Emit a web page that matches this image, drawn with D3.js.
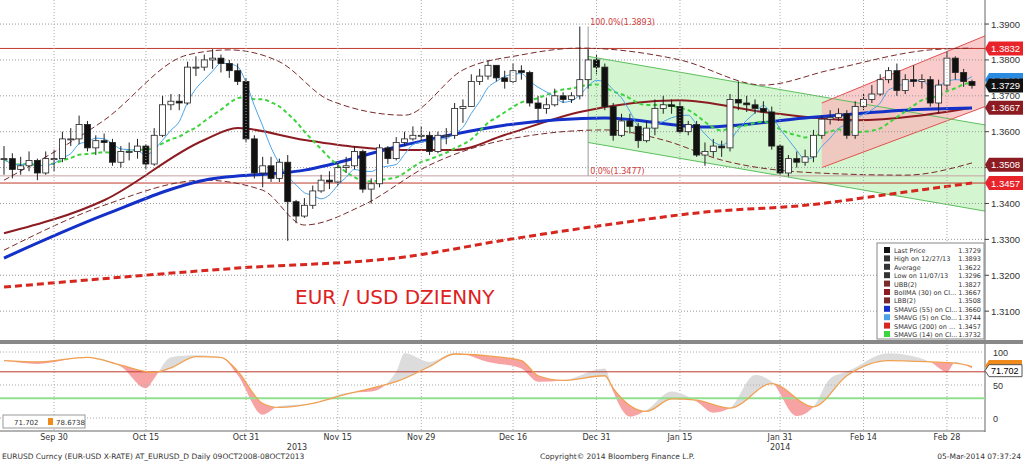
<!DOCTYPE html>
<html><head><meta charset="utf-8">
<script src="https://cdn.jsdelivr.net/npm/d3@7"></script>
<style>body{margin:0;background:#fff;font-family:"DejaVu Sans",sans-serif}svg text{font-family:"DejaVu Sans",sans-serif}svg text.ax{font-family:"Liberation Sans",sans-serif}</style>
</head><body><svg width="1023" height="462"></svg>
<script>
// daily closes, Sep 20 2013 .. Mar 5 2014 (trading days)
const closes = [1.3525,
 1.3495,1.3505,1.3520,1.3485,1.3525, 1.3525,1.3580,1.3580,1.3620,1.3555,
 1.3575,1.3570,1.3515,1.3545,1.3545, 1.3560,1.3510,1.3590,1.3675,1.3685,
 1.3680,1.3780,1.3780,1.3800,1.3805, 1.3790,1.3770,1.3740,1.3580,1.3485,
 1.3505,1.3470,1.3515,1.3405,1.3365, 1.3395,1.3435,1.3465,1.3460,1.3500,
 1.3505,1.3545,1.3440,1.3455,1.3555, 1.3525,1.3570,1.3580,1.3590,1.3590,
 1.3545,1.3590,1.3590,1.3665,1.3670, 1.3740,1.3755,1.3785,1.3750,1.3740,
 1.3770,1.3765,1.3680,1.3665,1.3675, 1.3700,1.3690,1.3700,1.3745,
 1.3800,1.3780,1.3670,1.3590, 1.3630,1.3615,1.3575,1.3610,1.3665,
 1.3675,1.3670,1.3600,1.3620,1.3535, 1.3545,1.3560,1.3555,1.3690,1.3680,
 1.3675,1.3665,1.3655,1.3560,1.3485, 1.3525,1.3515,1.3530,1.3590,1.3635,
 1.3640,1.3650,1.3590,1.3670,1.3690, 1.3705,1.3745,1.3770,1.3715,1.3745,
 1.3740,1.3745,1.3680,1.3730,1.3805, 1.3765,1.3740,1.3729];
const highs = [1.3560,
 1.3540,1.3530,1.3545,1.3525,1.3545, 1.3550,1.3600,1.3610,1.3645,1.3630,
 1.3590,1.3595,1.3580,1.3560,1.3570, 1.3580,1.3565,1.3610,1.3700,1.3705,
 1.3705,1.3795,1.3810,1.3815,1.3830, 1.3815,1.3800,1.3790,1.3750,1.3590,
 1.3530,1.3530,1.3525,1.3535,1.3410, 1.3415,1.3450,1.3480,1.3490,1.3515,
 1.3530,1.3560,1.3550,1.3470,1.3565, 1.3560,1.3585,1.3600,1.3615,1.3615,
 1.3600,1.3600,1.3610,1.3680,1.3690, 1.3760,1.3775,1.3800,1.3785,1.3770,
 1.3790,1.3785,1.3770,1.3700,1.3695, 1.3720,1.3710,1.3710,1.3893,
 1.3830,1.3815,1.3790,1.3680, 1.3650,1.3650,1.3625,1.3630,1.3690,
 1.3700,1.3690,1.3685,1.3630,1.3630, 1.3570,1.3580,1.3575,1.3705,1.3740,
 1.3700,1.3690,1.3685,1.3670,1.3565, 1.3535,1.3545,1.3550,1.3605,1.3645,
 1.3660,1.3665,1.3660,1.3685,1.3705, 1.3730,1.3760,1.3780,1.3790,1.3760,
 1.3785,1.3760,1.3755,1.3745,1.3825, 1.3810,1.3775,1.3745];
const lows = [1.3480,
 1.3470,1.3480,1.3490,1.3465,1.3480, 1.3490,1.3515,1.3560,1.3565,1.3545,
 1.3535,1.3545,1.3505,1.3500,1.3520, 1.3525,1.3495,1.3505,1.3585,1.3660,
 1.3660,1.3675,1.3755,1.3770,1.3775, 1.3765,1.3750,1.3730,1.3570,1.3470,
 1.3445,1.3460,1.3460,1.3296,1.3345, 1.3360,1.3385,1.3430,1.3440,1.3450,
 1.3485,1.3495,1.3430,1.3400,1.3445, 1.3510,1.3520,1.3560,1.3575,1.3575,
 1.3535,1.3540,1.3565,1.3580,1.3625, 1.3670,1.3730,1.3745,1.3740,1.3720,
 1.3735,1.3745,1.3670,1.3630,1.3650, 1.3670,1.3680,1.3680,1.3690,
 1.3720,1.3760,1.3660,1.3575, 1.3585,1.3595,1.3555,1.3570,1.3590,
 1.3650,1.3650,1.3595,1.3590,1.3530, 1.3505,1.3530,1.3530,1.3545,1.3660,
 1.3655,1.3650,1.3625,1.3550,1.3480, 1.3475,1.3500,1.3505,1.3515,1.3580,
 1.3620,1.3630,1.3580,1.3580,1.3660, 1.3680,1.3700,1.3735,1.3700,1.3705,
 1.3725,1.3720,1.3670,1.3650,1.3715, 1.3745,1.3725,1.3720];

// overlays, sampled as [day index, value]
const ma200 = [[0,1.3167],[28,1.3220],[48,1.3251],[60,1.3298],[72,1.3340],[84,1.3376],[96,1.3395],[108,1.3432],[116,1.3457]];
const ma55  = [[0,1.3248],[12,1.3368],[24,1.3465],[36,1.3493],[48,1.3563],[60,1.3618],[72,1.3638],[84,1.3613],[96,1.3638],[108,1.3660],[116,1.3666]];
const bollMa= [[0,1.3317],[12,1.3409],[24,1.3577],[28,1.3610],[36,1.3577],[48,1.3549],[54,1.3549],[60,1.3591],[69,1.3655],[81,1.3688],[91,1.3655],[102,1.3632],[116,1.3667]];
const bandUp= [[0,1.3465],[12,1.3632],[22,1.3814],[27,1.3828],[33,1.3795],[39,1.3688],[48,1.3646],[55,1.3772],[62,1.3814],[69,1.3833],[81,1.3800],[91,1.3730],[99,1.3772],[111,1.3828],[116,1.3833]];
const bandLo= [[0,1.3270],[12,1.3395],[24,1.3465],[31,1.3437],[36,1.3340],[43,1.3395],[51,1.3507],[60,1.3577],[72,1.3605],[79,1.3577],[86,1.3521],[96,1.3487],[108,1.3479],[116,1.3513]];
const greenCh = {up:[[70,1.3810],[121,1.3605]], lo:[[70,1.3570],[121,1.3365]]};
const redCh   = {up:[[98,1.3680],[121,1.3900]], lo:[[98,1.3500],[121,1.3700]]};
const levels  = [1.3832,1.3457];
const fib     = [[70,1.3893,"100.0%(1.3893)"],[70,1.3477,"0.0%(1.3477)"]];

const rsi  = [[0,87],[4,85],[10,92],[14,80],[18,69],[20,76],[23,93],[26,92],[28,71],[31,22],[33,16],[37,22],[41,36],[44,45],[47,55],[51,78],[54,97],[58,94],[62,87],[64,64],[67,57],[72,64],[73,45],[77,10],[80,29],[83,27],[87,15],[92,52],[97,17],[101,64],[106,87],[111,85],[114,83],[116,78]];
const rsiFast = [[0,87],[4,82],[10,92],[14,78],[17,45],[18,60],[20,92],[23,95],[26,92],[28,65],[31,5],[33,18],[37,22],[41,38],[44,40],[47,70],[48,98],[51,85],[54,99],[58,85],[62,75],[64,55],[67,57],[72,75],[73,40],[75,2],[77,12],[80,40],[83,25],[85,8],[87,15],[90,65],[92,55],[95,3],[97,17],[99,60],[101,70],[106,98],[111,85],[113,70],[114,85],[116,75]];

const yTicks = [1.31,1.32,1.33,1.34,1.35,1.36,1.37,1.38,1.39];
const dateTicks = [["Sep 30",6],["Oct 15",17],["Oct 31",29],["Nov 15",40],["Nov 29",50],["Dec 16",61],["Dec 31",71],["Jan 15",81],["Jan 31",93],["Feb 14",103],["Feb 28",113]];
const priceTags = [[1.3832,"#e8242a","#fff"],[1.3744,"#2a8be0","#fff"],[1.3729,"#111","#fff"],[1.3667,"#8c1c22","#fff"],[1.3508,"#8c1c22","#fff"],[1.3457,"#e8242a","#fff"]];
const legendRows = [["Last Price","1.3729"],["High on 12/27/13","1.3893"],["Average","1.3622"],["Low on 11/07/13","1.3296"],["UBB(2)","1.3827"],["BollMA (30) on Cl...","1.3667"],["LBB(2)","1.3508"],["SMAVG (55) on Cl...","1.3660"],["SMAVG (5) on Clo...","1.3744"],["SMAVG (200) on ...","1.3457"],["SMAVG (14) on Cl...","1.3732"]];

const svg = d3.select("svg");
const plotR = 985;
const x = d3.scaleLinear().domain([0, closes.length - 1]).range([4, 972]);
const y = d3.scaleLinear().domain([1.3067, 1.3967]).range([323, 0]);
const yr = d3.scaleLinear().domain([0, 100]).range([418, 352]);

//Channels
const chPoly = (c) => [...c.up, ...c.lo.slice().reverse()].map(p => [x(p[0]), y(p[1])].join(",")).join(" ");
const defs = svg.append("defs");
defs.append("clipPath").attr("id","top").append("rect").attr("width",plotR).attr("height",340);
const gTop = svg.append("g").attr("clip-path","url(#top)");
gTop.append("polygon").attr("points", chPoly(greenCh)).attr("fill","#c8f2c4").attr("opacity",0.8);
gTop.append("polygon").attr("points", chPoly(redCh)).attr("fill","#f8b9b9").attr("opacity",0.75);
[greenCh, redCh].forEach((c, i) => [c.up, c.lo].forEach(l =>
  gTop.append("line").attr("x1",x(l[0][0])).attr("y1",y(l[0][1])).attr("x2",x(l[1][0])).attr("y2",y(l[1][1]))
    .attr("stroke", i ? "#e05050" : "#5cc05c").attr("stroke-width",1)));

//Grid
yTicks.forEach(t => gTop.append("line").attr("x1",0).attr("x2",plotR).attr("y1",y(t)).attr("y2",y(t))
  .attr("stroke","#999").attr("stroke-dasharray","1,2"));
dateTicks.forEach(([, i]) => svg.append("line").attr("x1",x(i)).attr("x2",x(i)).attr("y1",0).attr("y2",430)
  .attr("stroke","#aaa").attr("stroke-dasharray","1,2"));

//Levels & fib
levels.forEach(v => gTop.append("line").attr("x1",0).attr("x2",plotR).attr("y1",y(v)).attr("y2",y(v)).attr("stroke","#c0392b"));
gTop.append("line").attr("x1",0).attr("x2",plotR).attr("y1",y(1.3477)).attr("y2",y(1.3477)).attr("stroke","#c9a0a0");
gTop.append("line").attr("x1",x(70)).attr("x2",x(70)).attr("y1",y(1.3893)).attr("y2",y(1.3477)).attr("stroke","#999");
fib.forEach(([i, v, t]) => gTop.append("text").attr("x",x(i)+2).attr("y",y(v)-2).attr("font-size",8).attr("fill","#d04040").text(t));

const line = d3.line().x(d => x(d[0])).y(d => y(d[1])).curve(d3.curveMonotoneX);
gTop.append("path").attr("d", line(ma200)).attr("fill","none").attr("stroke","#d7261e").attr("stroke-width",3).attr("stroke-dasharray","7,4");
gTop.append("path").attr("d", line(bandUp)).attr("fill","none").attr("stroke","#7a2a2a").attr("stroke-width",1).attr("stroke-dasharray","6,3");
gTop.append("path").attr("d", line(bandLo)).attr("fill","none").attr("stroke","#7a2a2a").attr("stroke-width",1).attr("stroke-dasharray","6,3");
gTop.append("path").attr("d", line(bollMa)).attr("fill","none").attr("stroke","#8c1c22").attr("stroke-width",2);
gTop.append("path").attr("d", line(ma55)).attr("fill","none").attr("stroke","#1330c8").attr("stroke-width",3);

//Short moving averages from closes
const sma = n => closes.map((c, i) => { const s = closes.slice(Math.max(0, i - n + 1), i + 1); return [i, d3.mean(s)]; });
gTop.append("path").attr("d", line(sma(14))).attr("fill","none").attr("stroke","#3ed43e").attr("stroke-width",2).attr("stroke-dasharray","4,3");
gTop.append("path").attr("d", line(sma(5))).attr("fill","none").attr("stroke","#4aa3e8").attr("stroke-width",1);

//Candles
const cw = 6;
const candles = gTop.selectAll("g.c").data(closes).join("g");
candles.append("line").attr("x1",(d,i)=>x(i)).attr("x2",(d,i)=>x(i)).attr("y1",(d,i)=>y(highs[i])).attr("y2",(d,i)=>y(lows[i])).attr("stroke","#222");
candles.append("rect")
  .attr("x",(d,i)=>x(i)-cw/2).attr("width",cw)
  .attr("y",(d,i)=>{const o = i ? closes[i-1] : d; return y(Math.max(o,d));})
  .attr("height",(d,i)=>{const o = i ? closes[i-1] : d; return Math.max(1, Math.abs(y(o)-y(d)));})
  .attr("fill",(d,i)=> (i && d < closes[i-1]) ? "#111" : "#fff").attr("stroke","#222").attr("stroke-width",0.8);

svg.append("text").attr("x",295).attr("y",304).attr("fill","#e02020").attr("font-size",20)
  .attr("font-family","Liberation Sans Narrow, Arial Narrow, sans-serif").text("EUR / USD DZIENNY");

//Right axis
svg.append("line").attr("x1",plotR).attr("x2",plotR).attr("y1",0).attr("y2",432).attr("stroke","#666");
yTicks.forEach(t => {
  svg.append("line").attr("x1",plotR).attr("x2",plotR+4).attr("y1",y(t)).attr("y2",y(t)).attr("stroke","#444");
  svg.append("text").attr("class","ax").attr("x",plotR+6).attr("y",y(t)+3.5).attr("font-size",9.5).attr("fill","#333").text(t.toFixed(4));
});
priceTags.forEach(([v, bg, fg]) => {
  const yy = y(v);
  svg.append("path").attr("d",`M${plotR},${yy} l4,-7 h34 v14 h-34 z`).attr("fill",bg);
  svg.append("text").attr("class","ax").attr("x",plotR+6).attr("y",yy+3.5).attr("font-size",9.5).attr("fill",fg).text(v.toFixed(4));
});

//Legend
const lg = svg.append("g").attr("transform","translate(877,243)");
lg.append("rect").attr("width",107).attr("height",96).attr("fill","#fff").attr("stroke","#888");
const legColors = ["#111","#333","#333","#333","#7a2a2a","#8c1c22","#7a2a2a","#1330c8","#4aa3e8","#d7261e","#3ed43e"];
legendRows.forEach(([n, v], i) => {
  lg.append("rect").attr("x",7).attr("y",4+i*8.4).attr("width",6).attr("height",6).attr("fill",legColors[i]);
  lg.append("text").attr("x",17).attr("y",10+i*8.4).attr("font-size",6.5).attr("fill","#333").text(n);
  lg.append("text").attr("x",104).attr("y",10+i*8.4).attr("font-size",6.5).attr("text-anchor","end").attr("fill","#333").text(v);
});

//Separator
svg.append("rect").attr("x",0).attr("y",340).attr("width",1023).attr("height",4).attr("fill","#888");

//RSI panel
const lr = d3.line().x(d => x(d[0])).y(d => yr(d[1])).curve(d3.curveMonotoneX);
const above = d3.area().x(d => x(d[0])).y0(yr(105)).y1(d => yr(d[1])).curve(d3.curveMonotoneX);
const below = d3.area().x(d => x(d[0])).y0(yr(-5)).y1(d => yr(d[1])).curve(d3.curveMonotoneX);
defs.append("clipPath").attr("id","ab").append("path").attr("d", above(rsi));
defs.append("clipPath").attr("id","be").append("path").attr("d", below(rsi));
svg.append("path").attr("d", below(rsiFast)).attr("fill","#dcdcdc").attr("clip-path","url(#ab)");
svg.append("path").attr("d", above(rsiFast)).attr("fill","#f7a3a3").attr("clip-path","url(#be)");
[0,50,100].forEach(t => {
  svg.append("line").attr("x1",0).attr("x2",plotR).attr("y1",yr(t)).attr("y2",yr(t)).attr("stroke","#aaa").attr("stroke-dasharray","1,2");
  svg.append("text").attr("class","ax").attr("x",plotR+8).attr("y",yr(t)+4).attr("font-size",9).attr("fill","#333").text(t);
});
svg.append("line").attr("x1",0).attr("x2",plotR).attr("y1",yr(70)).attr("y2",yr(70)).attr("stroke","#c0392b");
svg.append("line").attr("x1",0).attr("x2",plotR).attr("y1",yr(30)).attr("y2",yr(30)).attr("stroke","#90e090").attr("stroke-width",2);
svg.append("path").attr("d", lr(rsi)).attr("fill","none").attr("stroke","#f0a050").attr("stroke-width",1.3);
svg.append("path").attr("d",`M${plotR},${yr(78.67)} l4,-6 h33 v12 h-33 z`).attr("fill","#f08a1c");
svg.append("path").attr("d",`M${plotR},${yr(71.7)} l4,-6 h33 v12 h-33 z`).attr("fill","#fff").attr("stroke","#555");
svg.append("text").attr("class","ax").attr("x",plotR+6).attr("y",yr(71.7)+3.5).attr("font-size",9).text("71.702");
svg.append("rect").attr("x",3).attr("y",415).attr("width",82).attr("height",13).attr("fill","#fff").attr("stroke","#999");
svg.append("text").attr("x",14).attr("y",425).attr("font-size",7).attr("fill","#333").text("71.702");
svg.append("rect").attr("x",48).attr("y",418).attr("width",5).attr("height",7).attr("fill","#f08a1c");
svg.append("text").attr("x",56).attr("y",425).attr("font-size",7).attr("fill","#333").text("78.6738");

//X axis
svg.append("line").attr("x1",0).attr("x2",plotR).attr("y1",431).attr("y2",431).attr("stroke","#666");
dateTicks.forEach(([t, i]) => svg.append("text").attr("x",x(i)).attr("y",440).attr("text-anchor","middle").attr("font-size",8).attr("fill","#333").text(t));
svg.append("text").attr("x",297).attr("y",450).attr("text-anchor","middle").attr("font-size",8).attr("fill","#333").text("2013");
svg.append("text").attr("x",x(93)).attr("y",450).attr("text-anchor","middle").attr("font-size",8).attr("fill","#333").text("2014");
svg.append("text").attr("x",2).attr("y",459).attr("font-size",7.5).attr("fill","#333").text("EURUSD Curncy (EUR-USD X-RATE) AT_EURUSD_D  Daily 09OCT2008-08OCT2013");
svg.append("text").attr("x",540).attr("y",459).attr("font-size",7.5).attr("fill","#333").text("Copyright© 2014 Bloomberg Finance L.P.");
svg.append("text").attr("x",1021).attr("y",459).attr("text-anchor","end").attr("font-size",7.5).attr("fill","#333").text("05-Mar-2014 07:37:24");
</script></body></html>
